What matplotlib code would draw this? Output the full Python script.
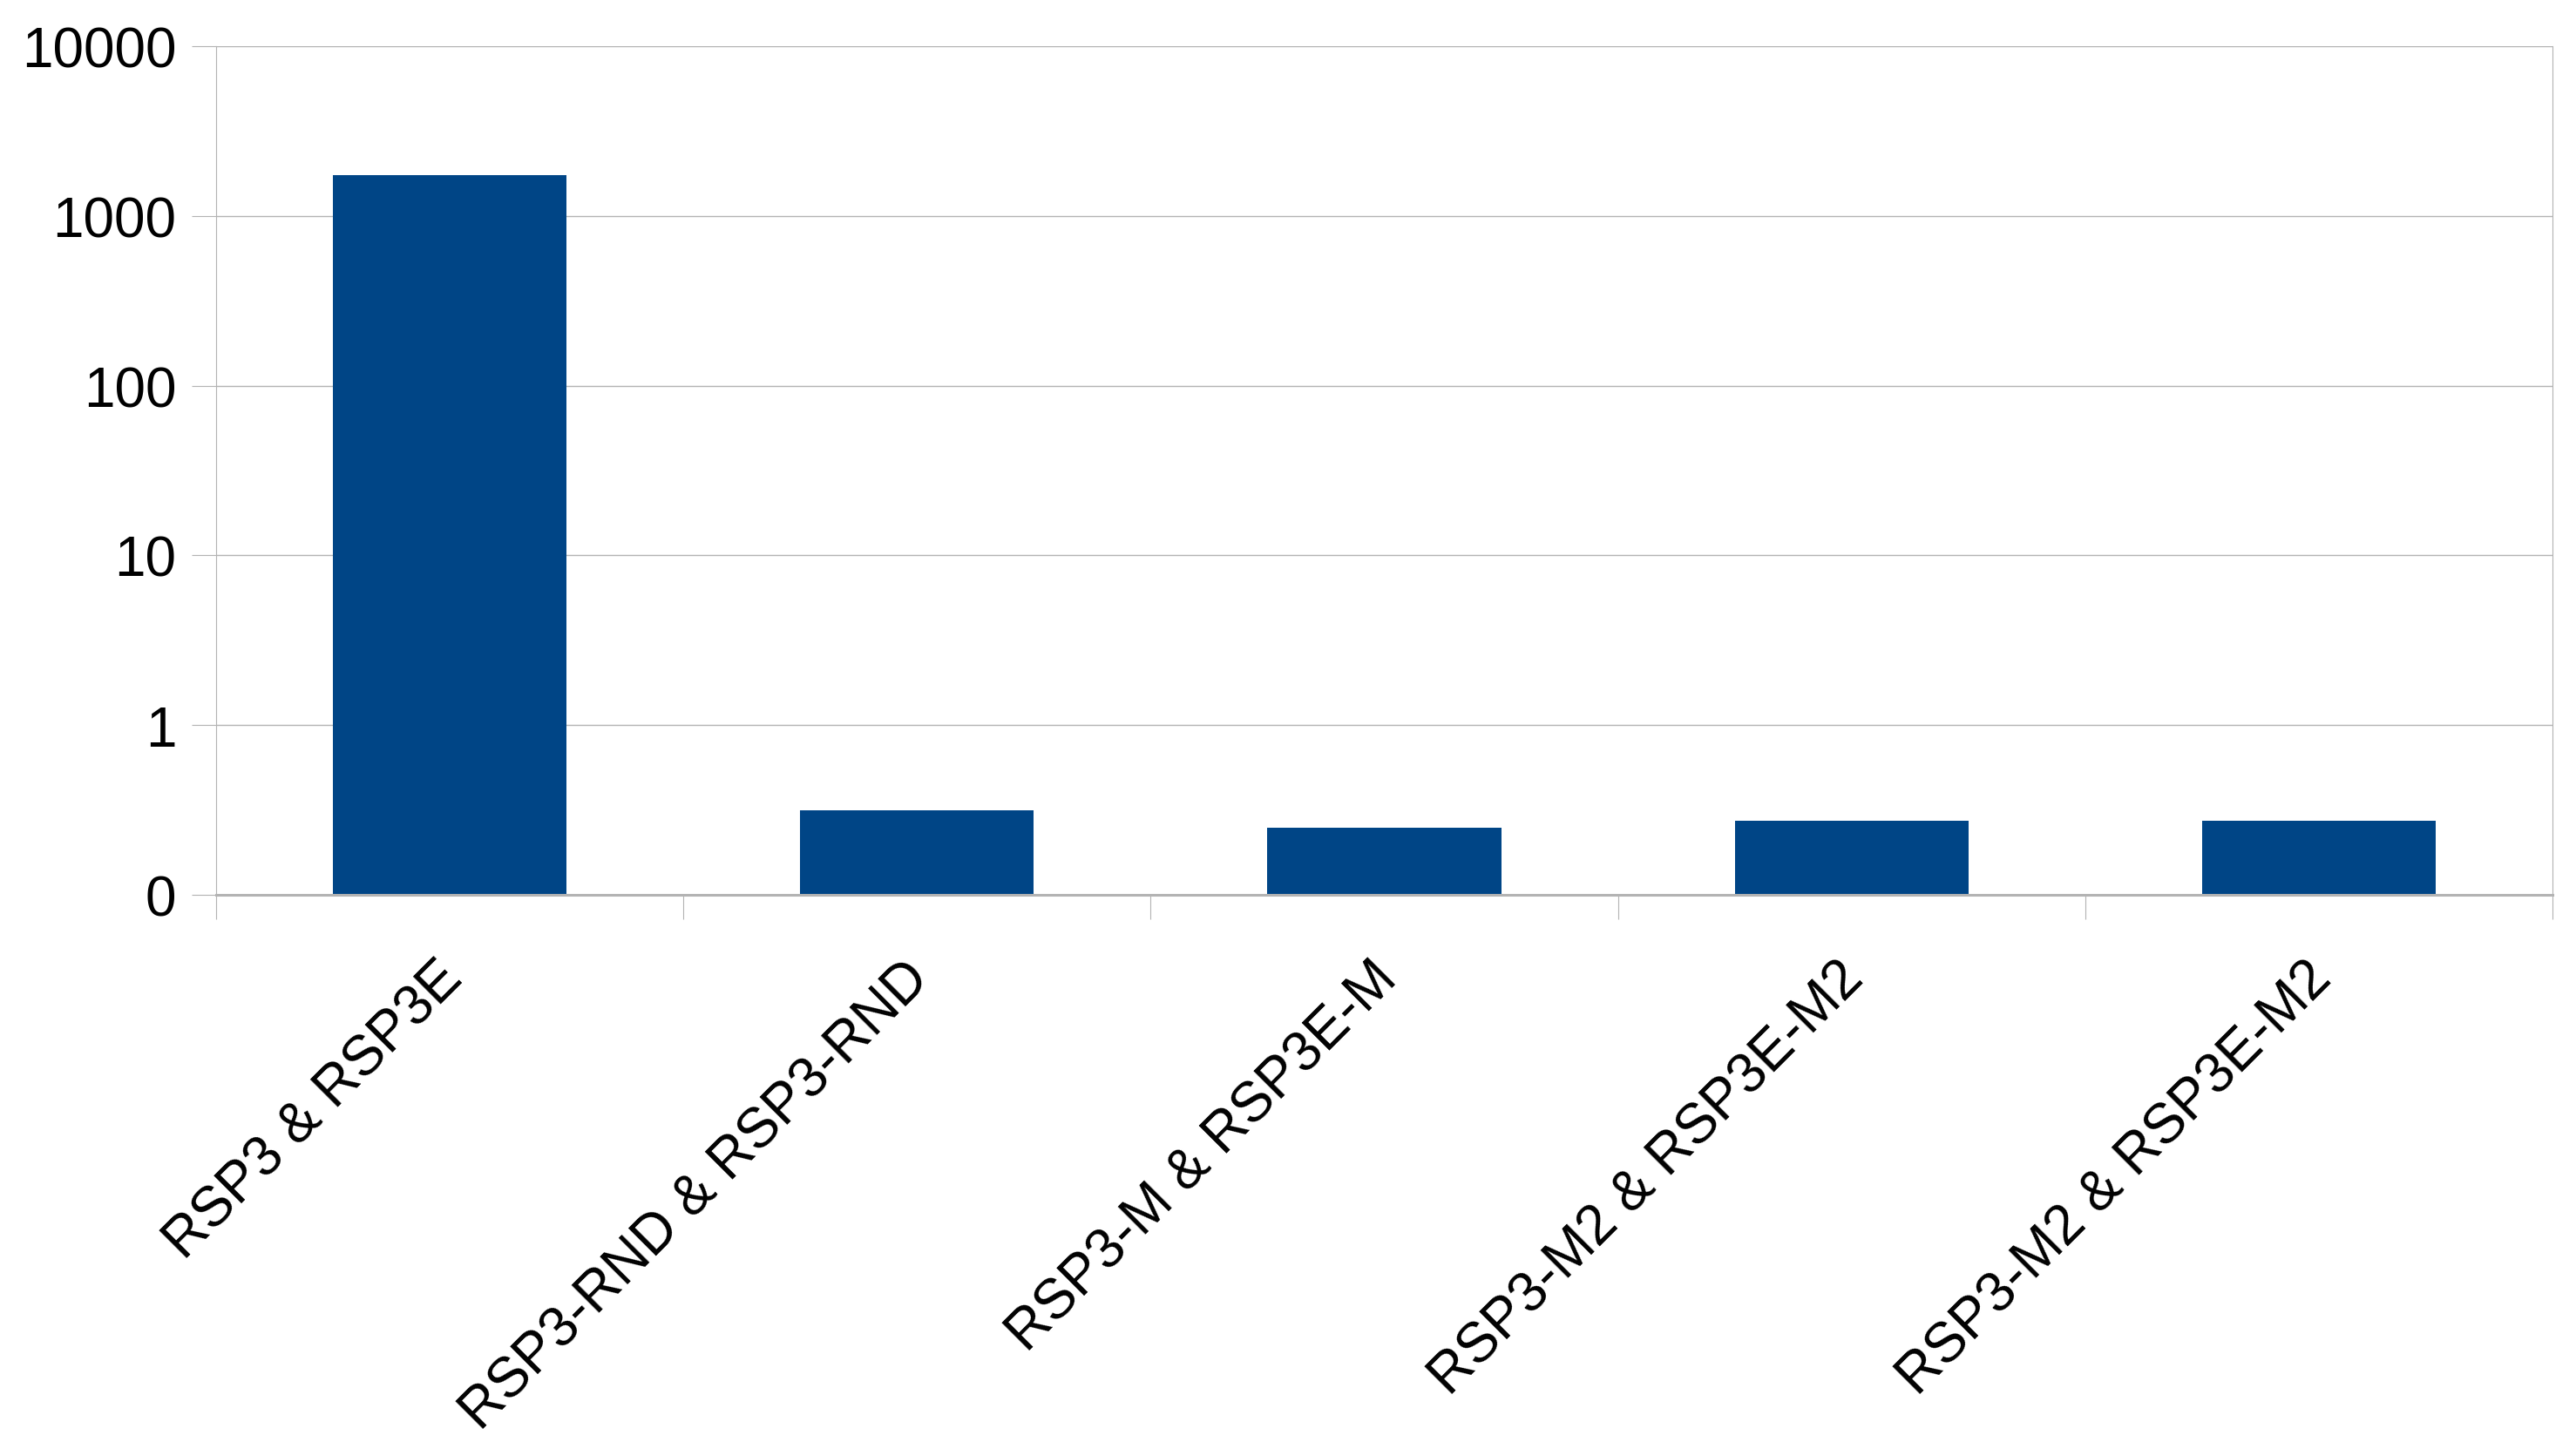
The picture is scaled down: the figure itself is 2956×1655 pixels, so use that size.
import matplotlib
matplotlib.use("Agg")
import matplotlib.pyplot as plt
import matplotlib.transforms as mtransforms
import numpy as np
from matplotlib.ticker import FixedLocator, NullFormatter

plt.rcParams.update({"font.family": ["Liberation Sans", "DejaVu Sans"],
                     "font.size": 46})

# data (log scale)
pairs = ["RSP3 & RSP3E", "RSP3-RND & RSP3-RND", "RSP3-M & RSP3E-M",
         "RSP3-M2 & RSP3E-M2", "RSP3-M2 & RSP3E-M2"]
values = [1740, 0.314, 0.248, 0.272, 0.272]
yticks = [0.1, 1, 10, 100, 1000, 10000]
ytick_labels = ["0", "1", "10", "100", "1000", "10000"]

BLUE = "#004586"
GRID = "#b3b3b3"

fig = plt.figure(figsize=(29.56, 16.56), dpi=100)
ax = fig.add_axes([0.0839, 0.3792, 0.9070, 0.5882])

x = np.arange(len(pairs))
ax.bar(x, values, width=0.5, color=BLUE, zorder=3)

ax.set_yscale("log")
ax.set_ylim(0.1, 10000)
ax.set_xlim(-0.5, len(pairs) - 0.5)
ax.yaxis.set_major_locator(FixedLocator(yticks))
ax.set_yticklabels(ytick_labels)
ax.yaxis.set_minor_locator(FixedLocator([]))
ax.yaxis.set_minor_formatter(NullFormatter())
ax.grid(axis="y", color=GRID, lw=1.0, zorder=0)

ax.set_xticks(x)
ax.set_xticklabels(pairs, rotation=45, ha="right")
ax.set_xticks(np.arange(len(pairs) + 1) - 0.5, minor=True)
ax.tick_params(axis="x", which="major", length=0, pad=47)
ax.tick_params(axis="x", which="minor", length=20, width=0.8, color=GRID)
ax.tick_params(axis="y", which="major", length=20, width=0.8, color=GRID, pad=13)

# nudge rotated labels a bit to the right, like the reference
shift = mtransforms.ScaledTranslation(0.26, 0, fig.dpi_scale_trans)
for lbl in ax.get_xticklabels():
    lbl.set_transform(lbl.get_transform() + shift)

for s in ["left", "right", "top"]:
    ax.spines[s].set_color(GRID)
    ax.spines[s].set_linewidth(0.8)
ax.spines["top"].set_visible(False)
ax.spines["bottom"].set_color(GRID)
ax.spines["bottom"].set_linewidth(2.2)
ax.spines["bottom"].set_zorder(4)

fig.savefig("out.png", dpi=100)
